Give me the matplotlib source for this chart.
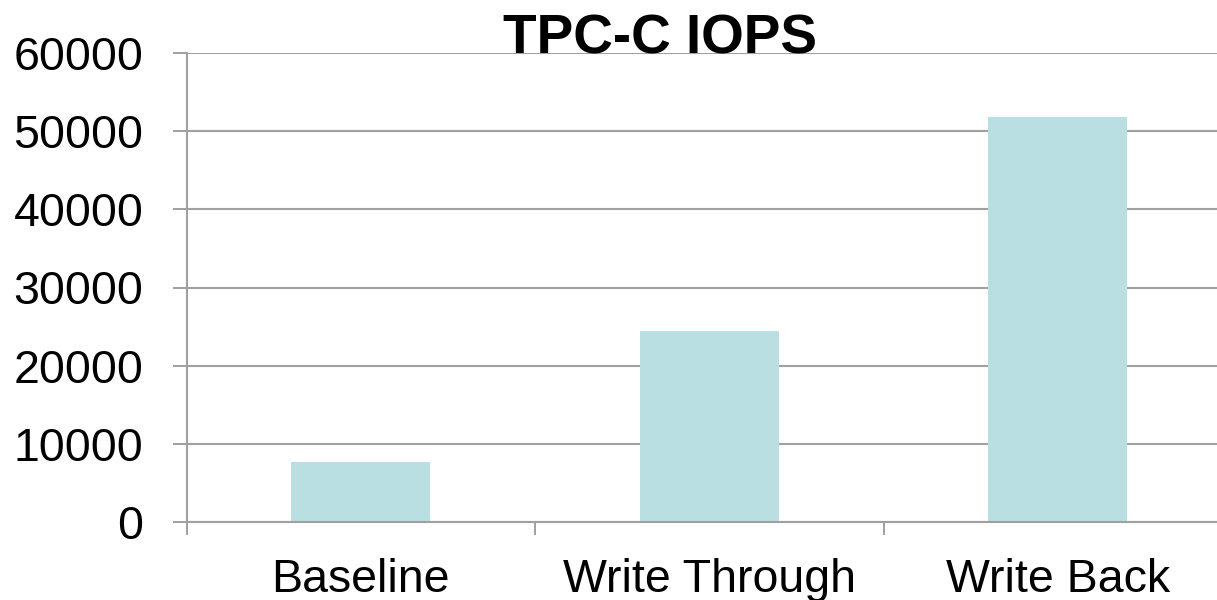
import numpy as np
import matplotlib.pyplot as plt

categories = ["Baseline", "Write Through", "Write Back"]
iops = [7650, 24450, 51800]
y_ticks = [0, 10000, 20000, 30000, 40000, 50000, 60000]

BAR_COLOR = "#B9DFE2"
GRID_COLOR = "#A0A0A0"

plt.rcParams["font.family"] = ["Liberation Sans", "DejaVu Sans"]

fig = plt.figure(figsize=(12.17, 6.00), dpi=100)
# axes run a little past the right edge of the canvas
ax = fig.add_axes([186.5 / 1217, 78.3 / 600, 1045.5 / 1217, 468.4 / 600])

x = np.arange(len(categories))
ax.bar(x, iops, width=0.4, color=BAR_COLOR, zorder=2)

ax.set_xlim(-0.5, len(categories) - 0.5)
ax.set_ylim(0, 60000)
ax.set_yticks(y_ticks)
ax.set_yticklabels([str(v) for v in y_ticks])

# category labels under the bars, tick marks between categories
ax.set_xticks(x)
ax.set_xticklabels(categories)
ax.set_xticks(np.arange(len(categories) + 1) - 0.5, minor=True)
ax.tick_params(axis="x", which="major", length=0, pad=26, labelsize=33.5)
ax.tick_params(axis="x", which="minor", length=9.5, width=1.4, color=GRID_COLOR, direction="out")
ax.tick_params(axis="y", length=10, width=1.4, color=GRID_COLOR, pad=21, labelsize=33.5)

ax.grid(axis="y", color=GRID_COLOR, linewidth=1.5, zorder=0)
ax.set_axisbelow(True)

for side in ["top", "right"]:
    ax.spines[side].set_visible(False)
for side in ["left", "bottom"]:
    ax.spines[side].set_color(GRID_COLOR)
    ax.spines[side].set_linewidth(1.5)

fig.text(660 / 1217, (600 - 53) / 600, "TPC-C IOPS", ha="center", va="baseline",
         fontsize=39.5, fontweight="bold")

fig.savefig("out.png", dpi=100, facecolor="white")
